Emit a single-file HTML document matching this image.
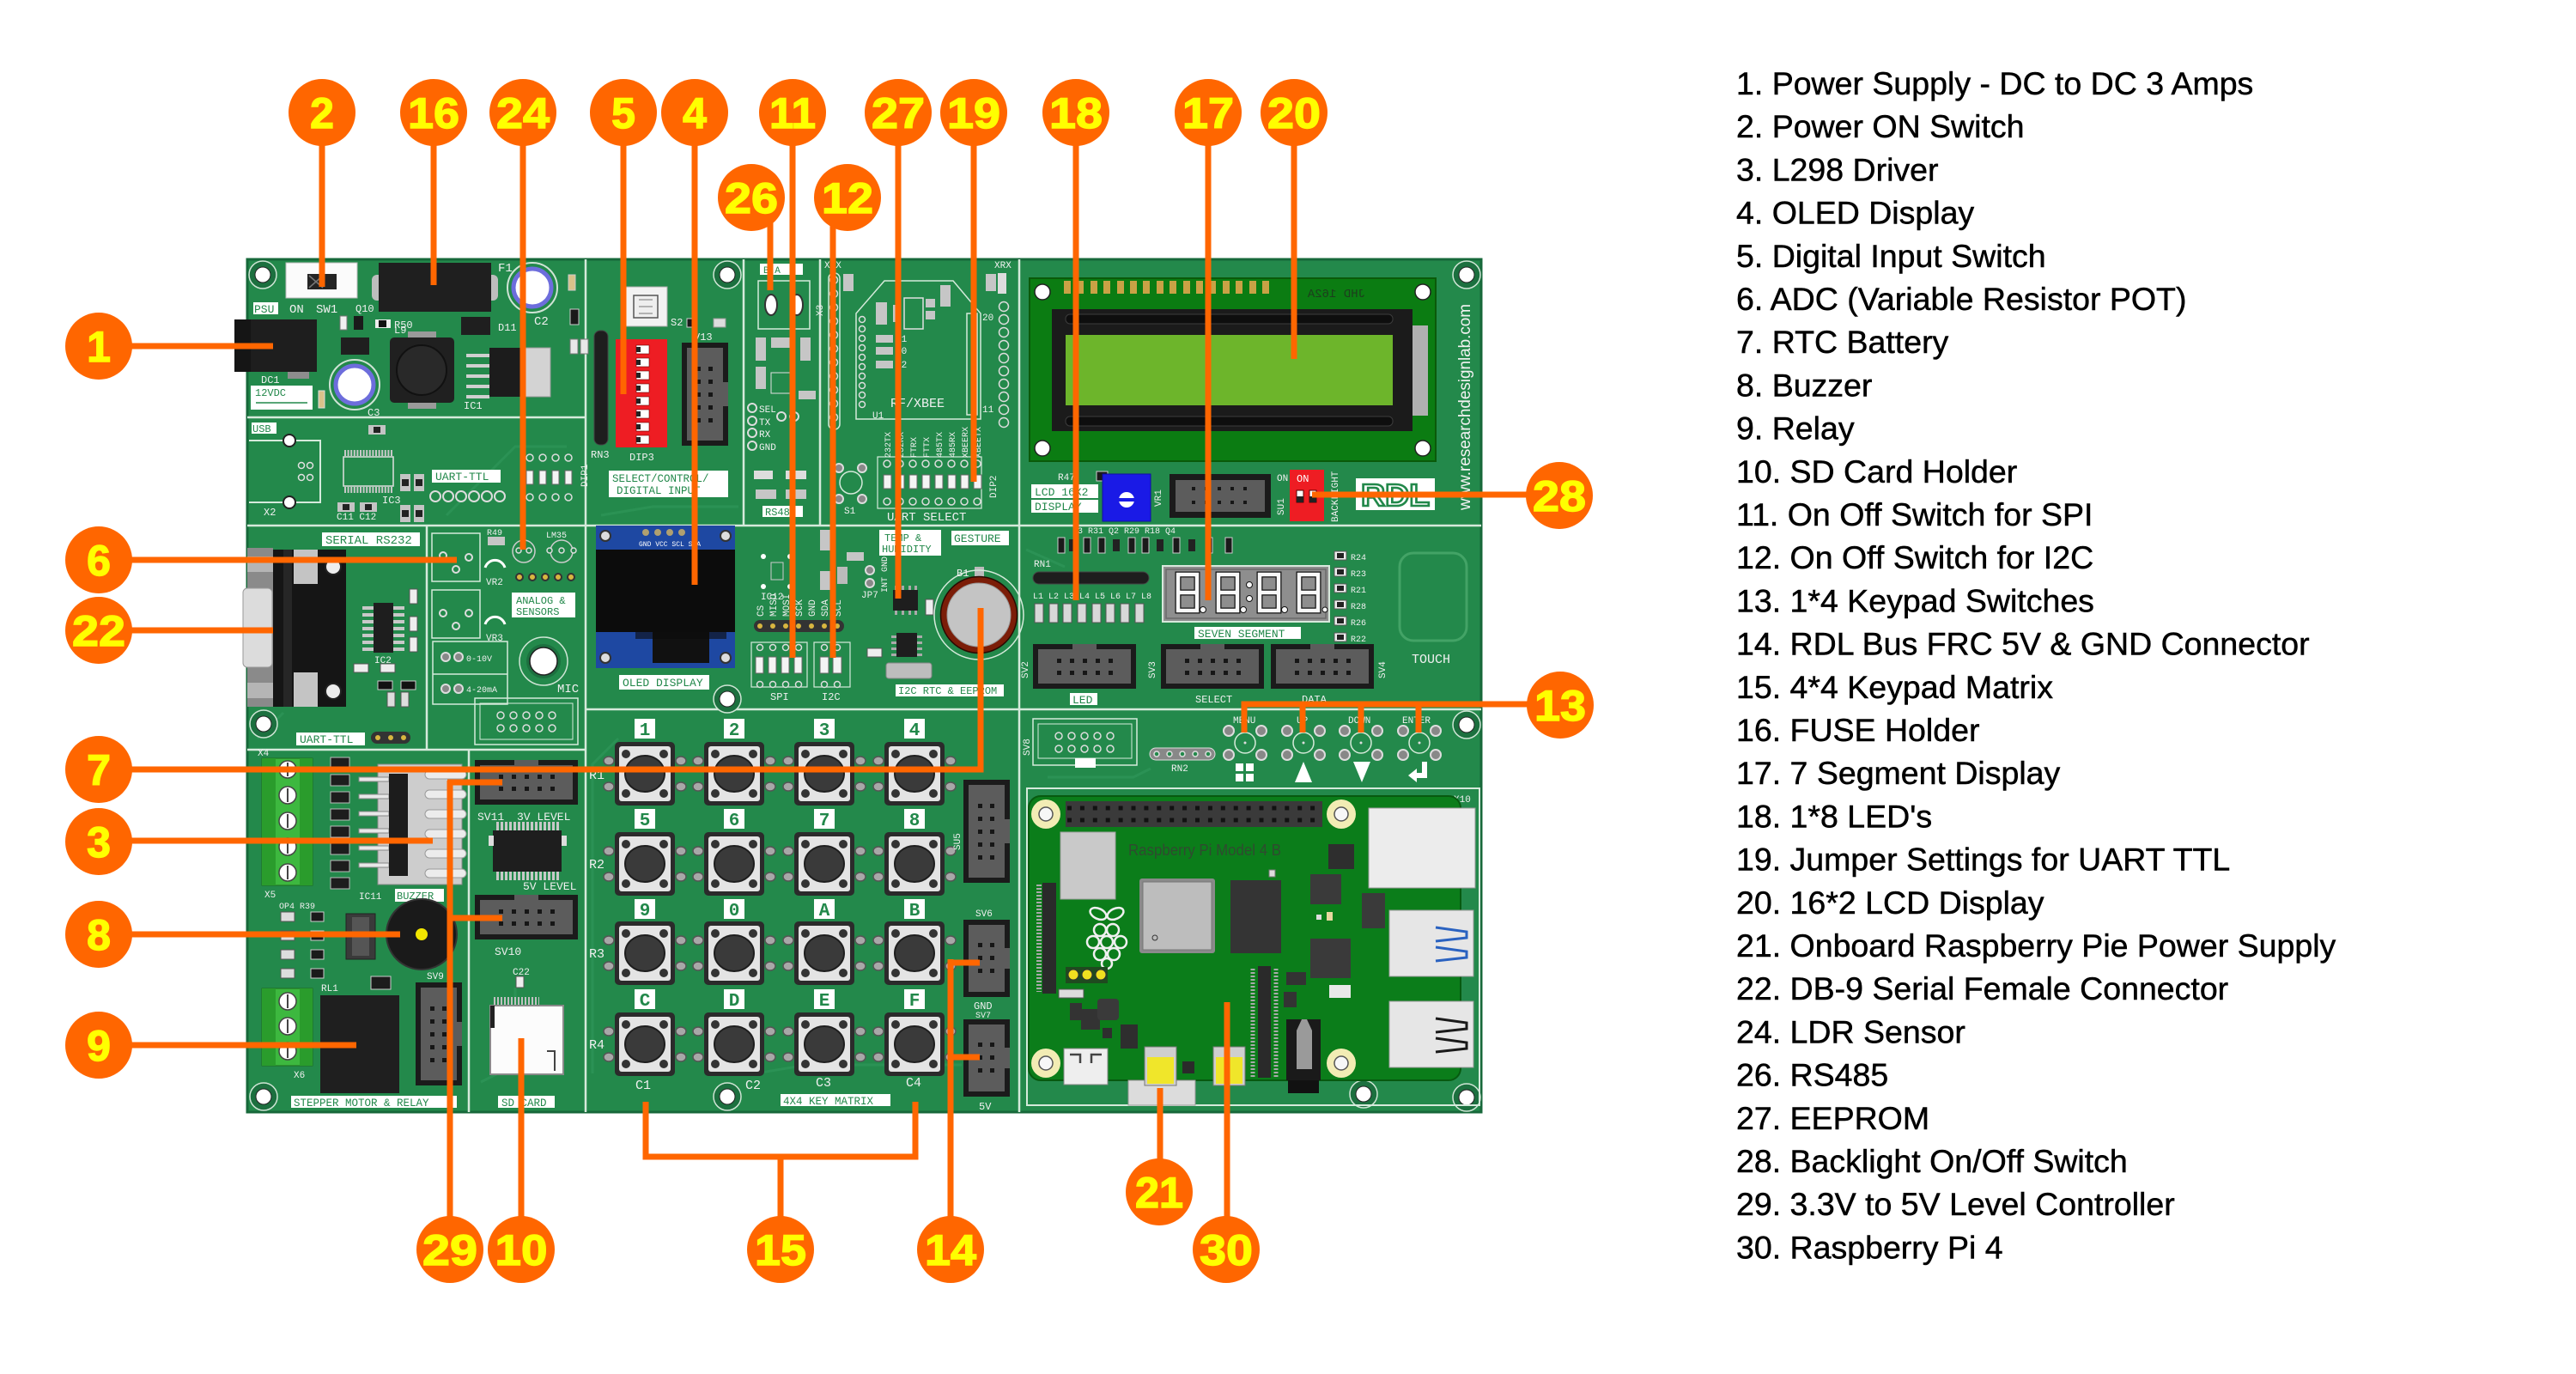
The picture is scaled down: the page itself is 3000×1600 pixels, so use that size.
<!DOCTYPE html>
<html><head><meta charset="utf-8"><style>
html,body{margin:0;padding:0;background:#fff;}
svg{display:block;}
</style></head><body>
<svg xmlns="http://www.w3.org/2000/svg" width="3000" height="1600" viewBox="0 0 3000 1600">
<defs>
  <g id="hdrH">
    <rect x="0" y="0" width="120" height="52" fill="#1b1b1b"/>
    <rect x="6" y="6" width="108" height="40" fill="#5c5c5c"/>
    <rect x="46" y="0" width="28" height="7" fill="#5c5c5c"/>
    <g fill="#161616">
      <rect x="28" y="17" width="5" height="5"/><rect x="43" y="17" width="5" height="5"/><rect x="58" y="17" width="5" height="5"/><rect x="73" y="17" width="5" height="5"/><rect x="88" y="17" width="5" height="5"/>
      <rect x="28" y="31" width="5" height="5"/><rect x="43" y="31" width="5" height="5"/><rect x="58" y="31" width="5" height="5"/><rect x="73" y="31" width="5" height="5"/><rect x="88" y="31" width="5" height="5"/>
    </g>
  </g>
  <g id="hdrV">
    <rect x="0" y="0" width="54" height="120" fill="#1b1b1b"/>
    <rect x="6" y="6" width="42" height="108" fill="#5c5c5c"/>
    <rect x="47" y="46" width="7" height="28" fill="#5c5c5c"/>
    <g fill="#161616">
      <rect x="17" y="28" width="5" height="5"/><rect x="17" y="43" width="5" height="5"/><rect x="17" y="58" width="5" height="5"/><rect x="17" y="73" width="5" height="5"/><rect x="17" y="88" width="5" height="5"/>
      <rect x="31" y="28" width="5" height="5"/><rect x="31" y="43" width="5" height="5"/><rect x="31" y="58" width="5" height="5"/><rect x="31" y="73" width="5" height="5"/><rect x="31" y="88" width="5" height="5"/>
    </g>
  </g>
  <g id="hdrV3">
    <rect x="0" y="0" width="54" height="90" fill="#1b1b1b"/>
    <rect x="6" y="6" width="42" height="78" fill="#5c5c5c"/>
    <rect x="47" y="33" width="7" height="24" fill="#5c5c5c"/>
    <g fill="#161616">
      <rect x="17" y="27" width="5" height="5"/><rect x="17" y="42" width="5" height="5"/><rect x="17" y="57" width="5" height="5"/>
      <rect x="31" y="27" width="5" height="5"/><rect x="31" y="42" width="5" height="5"/><rect x="31" y="57" width="5" height="5"/>
    </g>
  </g>
  <g id="btn">
    <ellipse cx="-42" cy="-15" rx="6" ry="5" fill="#a8a8a8" stroke="#555" stroke-width="1.5"/>
    <ellipse cx="-42" cy="15" rx="6" ry="5" fill="#a8a8a8" stroke="#555" stroke-width="1.5"/>
    <ellipse cx="42" cy="-15" rx="6" ry="5" fill="#a8a8a8" stroke="#555" stroke-width="1.5"/>
    <ellipse cx="42" cy="15" rx="6" ry="5" fill="#a8a8a8" stroke="#555" stroke-width="1.5"/>
    <rect x="-35" y="-37" width="70" height="74" rx="5" fill="#2b2b2b"/>
    <rect x="-30" y="-32" width="60" height="64" rx="3" fill="#e4e4e4"/>
    <circle cx="-22" cy="-23" r="5" fill="#333"/><circle cx="22" cy="-23" r="5" fill="#333"/>
    <circle cx="-22" cy="23" r="5" fill="#333"/><circle cx="22" cy="23" r="5" fill="#333"/>
    <ellipse cx="0" cy="0" rx="23" ry="21" fill="#3a3a3a" stroke="#1e1e1e" stroke-width="2"/>
  </g>
  <g id="hole">
    <circle r="16" fill="#1c703f" stroke="#cfe5d5" stroke-width="1.5"/>
    <circle r="9" fill="#fff" stroke="#222" stroke-width="1"/>
  </g>
  <g id="pihole">
    <circle r="17" fill="#f2ecb4"/>
    <circle r="8" fill="#f7f7f7" stroke="#555" stroke-width="1.5"/>
  </g>
  <g id="tact">
    <circle cx="-19" cy="-14" r="6" fill="#888" stroke="#ddd" stroke-width="2"/>
    <circle cx="19" cy="-14" r="6" fill="#888" stroke="#ddd" stroke-width="2"/>
    <circle cx="-19" cy="14" r="6" fill="#888" stroke="#ddd" stroke-width="2"/>
    <circle cx="19" cy="14" r="6" fill="#888" stroke="#ddd" stroke-width="2"/>
    <circle r="12" fill="none" stroke="#d5ead9" stroke-width="1.5"/>
    <circle r="1.5" fill="#ddd"/>
  </g>
  <g id="cap">
    <circle r="29" fill="none" stroke="#cfe3d5" stroke-width="2"/>
    <circle r="22" fill="#fff" stroke="#6d6ddc" stroke-width="5"/>
  </g>
  <g id="smd">
    <rect x="0" y="0" width="12" height="20" fill="#c4c4c4"/>
    <rect x="2" y="6" width="8" height="8" fill="#222"/>
  </g>
  <g id="smdh">
    <rect x="0" y="0" width="20" height="11" fill="#c4c4c4"/>
    <rect x="6" y="2" width="8" height="7" fill="#222"/>
  </g>
  <g id="seg">
    <path d="M3 2 H25 V23 H3 Z M3 23 V44 H25 V23" fill="none" stroke="#111" stroke-width="7"/>
    <path d="M3 2 H25 V23 H3 Z M3 23 V44 H25 V23" fill="none" stroke="#f8f8f8" stroke-width="4.5"/>
  </g>
</defs>

<!-- ================= BOARD ================= -->
<rect x="288" y="302" width="1437" height="993" fill="#23894b" stroke="#17683a" stroke-width="3"/>

<g fill="none" stroke="#2d9557" stroke-width="3" opacity="0.8">
  <path d="M700 600 L760 590 H860"/>
  <path d="M560 1260 L600 1240 V1150"/>
  <path d="M880 1250 L940 1240 H1120"/>
  <path d="M720 860 L690 890 V1250"/>
  <path d="M300 860 L330 830"/>
  <path d="M1220 905 L1320 905 L1340 895"/>
  <path d="M1195 640 L1240 660"/>
  <path d="M520 600 L600 520 H660"/>
</g>

<g fill="none" stroke="#d5eadb" stroke-width="2.5">
  <path d="M682 302 V1295"/>
  <path d="M288 486 H682"/>
  <path d="M288 612 H1725"/>
  <path d="M866 302 V612"/>
  <path d="M955 302 V612"/>
  <path d="M1187 302 V1295"/>
  <path d="M682 826 H1725"/>
  <path d="M288 873 H682"/>
  <path d="M497 612 V873"/>
  <path d="M546 873 V1295"/>
</g>

<use href="#hole" x="306" y="320"/>
<use href="#hole" x="847" y="320"/>
<use href="#hole" x="1708" y="320"/>
<use href="#hole" x="307" y="843"/>
<use href="#hole" x="307" y="1277"/>
<use href="#hole" x="847" y="1277"/>
<use href="#hole" x="847" y="814"/>
<use href="#hole" x="1708" y="844"/>
<use href="#hole" x="1708" y="1278"/>
<use href="#hole" x="1588" y="1274"/>

<g font-family="Liberation Mono, DejaVu Sans Mono, monospace" font-size="14" fill="#f0f0f0">
<!-- PSU -->
<rect x="333" y="306" width="83" height="41" fill="#fbfbfb" stroke="#bbb"/>
<rect x="358" y="319" width="34" height="18" fill="#242424"/>
<path d="M360 321 L376 335 M376 321 L360 335" stroke="#777" stroke-width="1.5"/>
<text x="337" y="364">ON</text><text x="368" y="364">SW1</text>
<rect x="433" y="320" width="18" height="30" rx="6" fill="#bdbdbd"/>
<rect x="562" y="320" width="18" height="30" rx="6" fill="#bdbdbd"/>
<rect x="441" y="306" width="131" height="57" fill="#1f1f1f"/>
<text x="580" y="316">F1</text>
<use href="#cap" x="620" y="335"/>
<text x="622" y="378">C2</text>
<rect x="662" y="320" width="8" height="18" fill="#d9c28a" stroke="#ccc"/>
<rect x="664" y="360" width="10" height="18" fill="#1a1a1a" stroke="#ccc"/>
<rect x="664" y="395" width="9" height="17" fill="#e8e8e8" stroke="#777"/>
<rect x="676" y="395" width="9" height="17" fill="#e8e8e8" stroke="#777"/>
<rect x="273" y="372" width="96" height="61" fill="#151515"/>
<rect x="292" y="372" width="77" height="61" fill="#1e1e1e"/>
<rect x="335" y="433" width="25" height="8" fill="#8d8d8d"/>
<rect x="295" y="352" width="29" height="14" fill="#fff"/>
<text x="296" y="364" fill="#22884a" font-size="13">PSU</text>
<text x="304" y="446" font-size="12">DC1</text>
<rect x="396" y="368" width="8" height="16" fill="#f0f0f0" stroke="#777"/>
<rect x="412" y="368" width="11" height="16" fill="#1a1a1a"/>
<rect x="437" y="372" width="18" height="10" fill="#eee"/><rect x="441" y="373" width="9" height="8" fill="#111"/>
<text x="459" y="382" font-size="12">R50</text>
<text x="414" y="363" font-size="12">Q10</text>
<rect x="397" y="393" width="33" height="20" fill="#1f1f1f"/>
<rect x="475" y="386" width="33" height="8" fill="#9a9a9a"/>
<rect x="475" y="468" width="33" height="8" fill="#9a9a9a"/>
<rect x="454" y="393" width="75" height="76" rx="5" fill="#202020"/>
<circle cx="491" cy="431" r="29" fill="#292929" stroke="#111" stroke-width="2"/>
<text x="459" y="388" font-size="12">L9</text>
<rect x="537" y="369" width="34" height="21" fill="#1f1f1f"/>
<text x="580" y="385" font-size="12">D11</text>
<g fill="#d0d0d0"><rect x="543" y="412" width="27" height="4"/><rect x="543" y="424" width="27" height="4"/><rect x="543" y="436" width="27" height="4"/><rect x="543" y="448" width="27" height="4"/><rect x="543" y="460" width="27" height="4"/></g>
<rect x="570" y="405" width="42" height="57" fill="#1c1c1c"/>
<rect x="612" y="405" width="29" height="57" fill="#d3d3d3" stroke="#999"/>
<text x="540" y="476" font-size="12">IC1</text>
<use href="#cap" x="413" y="448"/>
<text x="428" y="484" font-size="12">C3</text>
<rect x="292" y="449" width="72" height="28" fill="#fff"/>
<text x="297" y="461" fill="#22884a" font-size="12">12VDC</text>
<path d="M298 469 H358" stroke="#22884a" stroke-width="1.5"/>
<rect x="371" y="455" width="7" height="20" fill="#d9c28a" stroke="#ddd"/>

<!-- USB / UART -->
<rect x="293" y="492" width="29" height="13" fill="#fff"/>
<text x="294" y="503" fill="#22884a" font-size="12">USB</text>
<path d="M290 513 H373 V585 H290" fill="none" stroke="#d5eadb" stroke-width="2"/>
<circle cx="337" cy="513" r="7" fill="#fff" stroke="#222" stroke-width="2"/>
<circle cx="337" cy="585" r="7" fill="#fff" stroke="#222" stroke-width="2"/>
<g fill="none" stroke="#e0e0e0" stroke-width="1.5"><circle cx="351" cy="542" r="3.5"/><circle cx="361" cy="542" r="3.5"/><circle cx="351" cy="556" r="3.5"/><circle cx="361" cy="556" r="3.5"/></g>
<text x="307" y="600" font-size="12">X2</text>
<rect x="400" y="532" width="58" height="34" fill="none" stroke="#e0e0e0" stroke-width="1.5"/>
<line x1="401" y1="527.5" x2="457" y2="527.5" stroke="#c8c8c8" stroke-width="7" stroke-dasharray="2 1.6"/>
<line x1="401" y1="570.5" x2="457" y2="570.5" stroke="#c8c8c8" stroke-width="7" stroke-dasharray="2 1.6"/>
<text x="445" y="586" font-size="12">IC3</text>
<use href="#smdh" x="429" y="495"/>
<use href="#smdh" x="393" y="585"/><use href="#smdh" x="419" y="585"/>
<text x="392" y="605" font-size="11">C11 C12</text>
<use href="#smd" x="466" y="552"/><use href="#smd" x="482" y="552"/>
<use href="#smd" x="466" y="588"/><use href="#smd" x="482" y="588"/>
<rect x="503" y="547" width="80" height="15" fill="#fff"/>
<text x="507" y="559" fill="#22884a" font-size="13">UART-TTL</text>
<g fill="#23894b" stroke="#ddd" stroke-width="2"><circle cx="507" cy="578" r="6"/><circle cx="522" cy="578" r="6"/><circle cx="537" cy="578" r="6"/><circle cx="552" cy="578" r="6"/><circle cx="567" cy="578" r="6"/><circle cx="582" cy="578" r="6"/></g>
<g fill="#23894b" stroke="#ddd" stroke-width="1.5"><circle cx="617" cy="533" r="4"/><circle cx="632" cy="533" r="4"/><circle cx="647" cy="533" r="4"/><circle cx="662" cy="533" r="4"/><circle cx="617" cy="579" r="4"/><circle cx="632" cy="579" r="4"/><circle cx="647" cy="579" r="4"/><circle cx="662" cy="579" r="4"/></g>
<g fill="#f4f4f4" stroke="#666"><rect x="613" y="548" width="8" height="16"/><rect x="628" y="548" width="8" height="16"/><rect x="643" y="548" width="8" height="16"/><rect x="658" y="548" width="8" height="16"/></g>
<text x="669" y="568" font-size="11" transform="rotate(-90 676 560)">DIP1</text>

<!-- DIP / select -->
<rect x="727" y="334" width="50" height="46" fill="#f2f2f2" stroke="#aaa"/>
<rect x="738" y="344" width="28" height="26" fill="#eee" stroke="#555" stroke-width="1.5"/>
<path d="M744 349 H760 M744 357 H760 M744 365 H760" stroke="#777"/>
<text x="781" y="379" font-size="12">S2</text>
<rect x="800" y="371" width="12" height="10" fill="#1a1a1a" stroke="#ccc"/>
<rect x="831" y="371" width="14" height="10" fill="#ddd" stroke="#999"/>
<rect x="692" y="385" width="16" height="133" rx="7" fill="#1e1e1e" stroke="#444"/>
<text x="688" y="533" font-size="12">RN3</text>
<rect x="717" y="395" width="60" height="126" fill="#ee1d23"/>
<g fill="#fff" stroke="#600" stroke-width="0.6">
<rect x="741" y="402" width="15" height="10"/><rect x="741" y="417" width="15" height="10"/><rect x="741" y="432" width="15" height="10"/><rect x="741" y="447" width="15" height="10"/>
<rect x="741" y="462" width="15" height="10"/><rect x="741" y="477" width="15" height="10"/><rect x="741" y="492" width="15" height="10"/><rect x="741" y="507" width="15" height="10"/>
</g>
<g fill="#222"><rect x="741" y="404" width="5" height="6"/><rect x="741" y="419" width="5" height="6"/><rect x="741" y="434" width="5" height="6"/><rect x="741" y="449" width="5" height="6"/><rect x="741" y="464" width="5" height="6"/><rect x="741" y="479" width="5" height="6"/><rect x="741" y="494" width="5" height="6"/><rect x="741" y="509" width="5" height="6"/></g>
<text x="733" y="536" font-size="12">DIP3</text>
<use href="#hdrV" x="794" y="399"/>
<text x="808" y="396" font-size="12">V13</text>
<rect x="709" y="548" width="139" height="31" fill="#fff"/>
<text x="713" y="561" fill="#22884a" font-size="12.5">SELECT/CONTROL/</text>
<text x="718" y="575" fill="#22884a" font-size="12.5">DIGITAL INPUT</text>

<!-- RS485 -->
<rect x="885" y="307" width="50" height="13" fill="#fff"/>
<text x="889" y="318" fill="#22884a" font-size="11">B  A</text>
<rect x="883" y="327" width="60" height="56" fill="none" stroke="#d5eadb" stroke-width="1.5"/>
<ellipse cx="898" cy="355" rx="7" ry="12" fill="#fff" stroke="#333" stroke-width="2"/>
<ellipse cx="928" cy="355" rx="7" ry="12" fill="#fff" stroke="#333" stroke-width="2"/>
<text x="944" y="370" font-size="11" transform="rotate(-90 950 362)">X3</text>
<rect x="880" y="393" width="12" height="27" fill="#c6c6c6"/><rect x="898" y="393" width="22" height="12" fill="#c6c6c6"/><rect x="932" y="393" width="12" height="27" fill="#c6c6c6"/>
<rect x="880" y="427" width="12" height="26" fill="#c6c6c6"/>
<rect x="898" y="434" width="24" height="24" fill="none" stroke="#e0e0e0"/>
<rect x="930" y="455" width="20" height="10" fill="#c6c6c6"/>
<g fill="#23894b" stroke="#ddd" stroke-width="2"><circle cx="876" cy="475" r="5"/><circle cx="876" cy="490" r="5"/><circle cx="876" cy="504" r="5"/><circle cx="876" cy="519" r="5"/><circle cx="910" cy="485" r="5"/><circle cx="925" cy="485" r="5"/></g>
<text x="884" y="480" font-size="11">SEL</text><text x="884" y="495" font-size="11">TX</text><text x="884" y="509" font-size="11">RX</text><text x="884" y="524" font-size="11">GND</text>
<rect x="878" y="548" width="22" height="10" fill="#ddd"/><rect x="915" y="548" width="24" height="10" fill="#ddd"/>
<rect x="880" y="570" width="24" height="11" fill="#c6c6c6"/><rect x="915" y="570" width="24" height="11" fill="#c6c6c6"/>
<rect x="888" y="589" width="47" height="13" fill="#fff"/>
<text x="891" y="600" fill="#22884a" font-size="12">RS485</text>

<!-- XBEE -->
<rect x="965" y="318" width="13" height="182" rx="6" fill="none" stroke="#d5eadb" stroke-width="1.5"/>
<g fill="#23894b" stroke="#ddd" stroke-width="1.5">
<circle cx="971" cy="326" r="4.5"/><circle cx="971" cy="342" r="4.5"/><circle cx="971" cy="358" r="4.5"/><circle cx="971" cy="374" r="4.5"/><circle cx="971" cy="390" r="4.5"/><circle cx="971" cy="406" r="4.5"/><circle cx="971" cy="422" r="4.5"/><circle cx="971" cy="438" r="4.5"/><circle cx="971" cy="454" r="4.5"/><circle cx="971" cy="470" r="4.5"/><circle cx="971" cy="486" r="4.5"/>
<circle cx="1169" cy="357" r="5.5"/><circle cx="1169" cy="372" r="5.5"/><circle cx="1169" cy="387" r="5.5"/><circle cx="1169" cy="402" r="5.5"/><circle cx="1169" cy="417" r="5.5"/><circle cx="1169" cy="432" r="5.5"/><circle cx="1169" cy="447" r="5.5"/><circle cx="1169" cy="462" r="5.5"/><circle cx="1169" cy="477" r="5.5"/><circle cx="1169" cy="492" r="5.5"/>
<circle cx="1004" cy="372" r="3.5"/><circle cx="1004" cy="383" r="3.5"/><circle cx="1004" cy="394" r="3.5"/><circle cx="1004" cy="405" r="3.5"/><circle cx="1004" cy="416" r="3.5"/><circle cx="1004" cy="427" r="3.5"/><circle cx="1004" cy="438" r="3.5"/><circle cx="1004" cy="449" r="3.5"/><circle cx="1004" cy="460" r="3.5"/><circle cx="1004" cy="471" r="3.5"/>
</g>
<path d="M997 488 V365 L1030 327 H1110 L1142 365 V488 Z" fill="none" stroke="#d5eadb" stroke-width="1.5"/>
<rect x="1126" y="365" width="12" height="118" fill="none" stroke="#d5eadb" stroke-width="1.5"/>
<rect x="1053" y="347" width="22" height="36" fill="none" stroke="#e0e0e0" stroke-width="1.5"/>
<rect x="1020" y="352" width="13" height="26" fill="#c6c6c6"/><rect x="1040" y="355" width="7" height="20" fill="#c6c6c6"/>
<rect x="1078" y="348" width="11" height="10" fill="#c6c6c6"/><rect x="1078" y="362" width="11" height="10" fill="#c6c6c6"/><rect x="1095" y="332" width="12" height="25" fill="#c6c6c6"/>
<rect x="1020" y="390" width="20" height="9" fill="#c6c6c6"/><rect x="1020" y="404" width="20" height="9" fill="#c6c6c6"/><rect x="1020" y="420" width="20" height="9" fill="#c6c6c6"/>
<text x="1043" y="398" font-size="11">11</text><text x="1043" y="412" font-size="11">10</text><text x="1043" y="428" font-size="11">12</text>
<text x="1037" y="474" font-size="15">RF/XBEE</text>
<text x="1016" y="487" font-size="11">U1</text>
<text x="1144" y="373" font-size="11">20</text><text x="1144" y="480" font-size="11">11</text>
<rect x="982" y="319" width="12" height="20" fill="#c6c6c6"/><rect x="1148" y="319" width="12" height="20" fill="#c6c6c6"/><rect x="1162" y="318" width="10" height="24" fill="#ddd"/>
<text x="960" y="312" font-size="11">X X</text><text x="1158" y="312" font-size="11">XRX</text>
<rect x="1022" y="532" width="121" height="60" fill="none" stroke="#d5eadb" stroke-width="1.2"/>
<g fill="#f4f4f4" stroke="#666"><rect x="1029" y="553" width="9" height="16"/><rect x="1044" y="553" width="9" height="16"/><rect x="1059" y="553" width="9" height="16"/><rect x="1074" y="553" width="9" height="16"/><rect x="1089" y="553" width="9" height="16"/><rect x="1104" y="553" width="9" height="16"/><rect x="1119" y="553" width="9" height="16"/><rect x="1134" y="553" width="9" height="16"/></g>
<g fill="#23894b" stroke="#ddd" stroke-width="1.5"><circle cx="1033" cy="540" r="4"/><circle cx="1048" cy="540" r="4"/><circle cx="1063" cy="540" r="4"/><circle cx="1078" cy="540" r="4"/><circle cx="1093" cy="540" r="4"/><circle cx="1108" cy="540" r="4"/><circle cx="1123" cy="540" r="4"/><circle cx="1138" cy="540" r="4"/>
<circle cx="1033" cy="584" r="4"/><circle cx="1048" cy="584" r="4"/><circle cx="1063" cy="584" r="4"/><circle cx="1078" cy="584" r="4"/><circle cx="1093" cy="584" r="4"/><circle cx="1108" cy="584" r="4"/><circle cx="1123" cy="584" r="4"/><circle cx="1138" cy="584" r="4"/></g>
<g font-size="10"><text transform="translate(1037 533) rotate(-90)">232TX</text><text transform="translate(1052 533) rotate(-90)">232RX</text><text transform="translate(1067 533) rotate(-90)">FTRX</text><text transform="translate(1082 533) rotate(-90)">FTTX</text><text transform="translate(1097 533) rotate(-90)">485TX</text><text transform="translate(1112 533) rotate(-90)">485RX</text><text transform="translate(1127 533) rotate(-90)">XBEERX</text><text transform="translate(1142 533) rotate(-90)">XBEETX</text></g>
<text x="1033" y="606" font-size="14">UART SELECT</text>
<text transform="translate(1160 580) rotate(-90)" font-size="11">DIP2</text>
<circle cx="991" cy="562" r="13" fill="none" stroke="#d5eadb" stroke-width="1.5"/>
<g fill="#888" stroke="#ddd" stroke-width="2"><circle cx="977" cy="545" r="5"/><circle cx="1004" cy="545" r="5"/><circle cx="977" cy="581" r="5"/><circle cx="1004" cy="581" r="5"/></g>
<text x="983" y="598" font-size="11">S1</text>

<!-- LCD -->
<rect x="1199" y="324" width="473" height="213" fill="#0b7c12" stroke="#0a5a0a" stroke-width="2"/>
<g fill="#c9a245">
<rect x="1239" y="327" width="8" height="15"/><rect x="1254" y="327" width="8" height="15"/><rect x="1270" y="327" width="8" height="15"/><rect x="1285" y="327" width="8" height="15"/><rect x="1301" y="327" width="8" height="15"/><rect x="1316" y="327" width="8" height="15"/><rect x="1331" y="327" width="8" height="15"/><rect x="1347" y="327" width="8" height="15"/>
<rect x="1362" y="327" width="8" height="15"/><rect x="1378" y="327" width="8" height="15"/><rect x="1393" y="327" width="8" height="15"/><rect x="1408" y="327" width="8" height="15"/><rect x="1424" y="327" width="8" height="15"/><rect x="1439" y="327" width="8" height="15"/><rect x="1455" y="327" width="8" height="15"/><rect x="1470" y="327" width="8" height="15"/>
</g>
<text x="1590" y="346" font-size="14" fill="#1d3d1d" transform="scale(-1 1) translate(-3180 0)">JHD 162A</text>
<circle cx="1214" cy="340" r="9" fill="#fff" stroke="#222" stroke-width="1.5"/>
<circle cx="1657" cy="340" r="9" fill="#fff" stroke="#222" stroke-width="1.5"/>
<circle cx="1214" cy="522" r="9" fill="#fff" stroke="#222" stroke-width="1.5"/>
<circle cx="1657" cy="522" r="9" fill="#fff" stroke="#222" stroke-width="1.5"/>
<rect x="1225" y="360" width="420" height="142" fill="#1b1b1b"/>
<rect x="1241" y="366" width="381" height="11" rx="5" fill="#0e0e0e" stroke="#3c3c3c"/>
<rect x="1241" y="485" width="381" height="11" rx="5" fill="#0e0e0e" stroke="#3c3c3c"/>
<rect x="1241" y="390" width="381" height="82" fill="#6db52b"/>
<rect x="1645" y="379" width="18" height="105" fill="#b0b0b0"/>

<rect x="1277" y="549" width="13" height="11" fill="#1a1a1a" stroke="#ccc"/>
<text x="1232" y="559" font-size="11">R47</text>
<rect x="1201" y="564" width="78" height="16" fill="#fff"/>
<rect x="1201" y="582" width="78" height="15" fill="#fff"/>
<text x="1205" y="577" fill="#22884a" font-size="13">LCD 16X2</text>
<text x="1205" y="594" fill="#22884a" font-size="13">DISPLAY</text>
<rect x="1284" y="552" width="56" height="55" fill="#1a1ae6" stroke="#1010a0"/>
<circle cx="1312" cy="582" r="9" fill="#fff"/>
<rect x="1303" y="580" width="18" height="4" fill="#1a1ae6"/>
<text transform="translate(1352 590) rotate(-90)" font-size="11">VR1</text>
<rect x="1362" y="552" width="118" height="51" fill="#1b1b1b"/>
<rect x="1369" y="559" width="104" height="37" fill="#5c5c5c"/>
<g fill="#161616"><rect x="1388" y="567" width="4" height="4"/><rect x="1403" y="567" width="4" height="4"/><rect x="1418" y="567" width="4" height="4"/><rect x="1433" y="567" width="4" height="4"/><rect x="1448" y="567" width="4" height="4"/><rect x="1388" y="583" width="4" height="4"/><rect x="1403" y="583" width="4" height="4"/><rect x="1418" y="583" width="4" height="4"/><rect x="1433" y="583" width="4" height="4"/><rect x="1448" y="583" width="4" height="4"/></g>
<text transform="translate(1495 600) rotate(-90)" font-size="11">SU1</text>
<text x="1487" y="560" font-size="11">ON</text>
<rect x="1502" y="547" width="40" height="60" fill="#ee1d23"/>
<text x="1510" y="561" font-size="12" fill="#fff">ON</text>
<rect x="1510" y="571" width="8" height="14" fill="#fff" stroke="#500"/><rect x="1525" y="571" width="8" height="14" fill="#fff" stroke="#500"/>
<rect x="1510" y="578" width="8" height="7" fill="#222"/><rect x="1525" y="578" width="8" height="7" fill="#222"/>
<text transform="translate(1558 608) rotate(-90)" font-size="11">BACKLIGHT</text>
<rect x="1579" y="557" width="92" height="37" fill="#fff"/>
<text x="1625" y="589" text-anchor="middle" font-family="Liberation Sans, sans-serif" font-weight="bold" font-size="36" fill="#fff" stroke="#22884a" stroke-width="2.5" textLength="80" lengthAdjust="spacingAndGlyphs">RDL</text>
<text transform="translate(1712 594) rotate(-90)" font-family="Liberation Sans, sans-serif" font-size="19" fill="#f2f2f2" textLength="240" lengthAdjust="spacingAndGlyphs">www.researchdesignlab.com</text>

<!-- LED / 7-seg -->
<g>
<rect x="1232" y="626" width="8" height="18" fill="#1a1a1a" stroke="#ccc"/>
<rect x="1245" y="628" width="8" height="14" fill="#222"/>
<rect x="1262" y="626" width="8" height="18" fill="#1a1a1a" stroke="#ccc"/>
<rect x="1279" y="626" width="8" height="18" fill="#1a1a1a" stroke="#ccc"/>
<rect x="1296" y="628" width="8" height="14" fill="#222"/>
<rect x="1314" y="626" width="8" height="18" fill="#1a1a1a" stroke="#ccc"/>
<rect x="1330" y="626" width="8" height="18" fill="#1a1a1a" stroke="#ccc"/>
<rect x="1347" y="628" width="8" height="14" fill="#222"/>
<rect x="1366" y="626" width="8" height="18" fill="#1a1a1a" stroke="#ccc"/>
<rect x="1384" y="628" width="8" height="14" fill="#222"/>
<rect x="1404" y="626" width="8" height="18" fill="#1a1a1a" stroke="#ccc"/>
<rect x="1427" y="626" width="8" height="18" fill="#1a1a1a" stroke="#ccc"/>
</g>
<text x="1249" y="621" font-size="10">Q3 R31 Q2 R29 R18 Q4</text>
<rect x="1203" y="666" width="135" height="14" rx="7" fill="#1e1e1e" stroke="#444"/>
<text x="1204" y="660" font-size="11">RN1</text>
<text x="1203" y="697" font-size="10">L1 L2 L3 L4 L5 L6 L7 L8</text>
<g fill="#d8d8d8" stroke="#555">
<rect x="1205" y="703" width="10" height="22"/><rect x="1222" y="703" width="10" height="22"/><rect x="1238" y="703" width="10" height="22"/><rect x="1255" y="703" width="10" height="22"/><rect x="1272" y="703" width="10" height="22"/><rect x="1288" y="703" width="10" height="22"/><rect x="1305" y="703" width="10" height="22"/><rect x="1322" y="703" width="10" height="22"/>
</g>
<rect x="1354" y="659" width="194" height="65" fill="#8e8e8e" stroke="#d8e8dc" stroke-width="2"/>
<rect x="1358" y="663" width="186" height="57" fill="none" stroke="#6a6a6a" stroke-width="1.5"/>
<use href="#seg" x="1369" y="667"/><use href="#seg" x="1416" y="667"/><use href="#seg" x="1464" y="667"/><use href="#seg" x="1510" y="667"/>
<g fill="#f6f6f6" stroke="#111" stroke-width="1"><circle cx="1401" cy="710" r="3.5"/><circle cx="1448" cy="710" r="3.5"/><circle cx="1496" cy="710" r="3.5"/><circle cx="1543" cy="710" r="3"/><circle cx="1455" cy="681" r="3.5"/><circle cx="1455" cy="697" r="3.5"/></g>
<rect x="1391" y="730" width="124" height="14" fill="#fff"/>
<text x="1395" y="742" fill="#22884a" font-size="13">SEVEN SEGMENT</text>
<g fill="#eee" stroke="#555"><rect x="1554" y="642" width="14" height="10"/><rect x="1554" y="661" width="14" height="10"/><rect x="1554" y="680" width="14" height="10"/><rect x="1554" y="699" width="14" height="10"/><rect x="1554" y="718" width="14" height="10"/><rect x="1554" y="737" width="14" height="10"/></g>
<g fill="#222"><rect x="1557" y="644" width="8" height="6"/><rect x="1557" y="663" width="8" height="6"/><rect x="1557" y="682" width="8" height="6"/><rect x="1557" y="701" width="8" height="6"/><rect x="1557" y="720" width="8" height="6"/><rect x="1557" y="739" width="8" height="6"/></g>
<text x="1573" y="652" font-size="10">R24</text><text x="1573" y="671" font-size="10">R23</text><text x="1573" y="690" font-size="10">R21</text><text x="1573" y="709" font-size="10">R28</text><text x="1573" y="728" font-size="10">R26</text><text x="1573" y="747" font-size="10">R22</text>
<rect x="1630" y="644" width="78" height="102" rx="16" fill="none" stroke="#43a366" stroke-width="3"/>
<text x="1644" y="772" font-size="15">TOUCH</text>
<use href="#hdrH" x="1203" y="750"/>
<use href="#hdrH" x="1352" y="750"/>
<use href="#hdrH" x="1480" y="750"/>
<rect x="1246" y="807" width="32" height="14" fill="#fff"/>
<text x="1249" y="819" fill="#22884a" font-size="13">LED</text>
<text x="1392" y="818" font-size="12">SELECT</text>
<text x="1516" y="818" font-size="12">DATA</text>
<text transform="translate(1197 790) rotate(-90)" font-size="11">SV2</text>
<text transform="translate(1345 790) rotate(-90)" font-size="11">SV3</text>
<text transform="translate(1613 790) rotate(-90)" font-size="11">SV4</text>

<!-- middle I2C/SPI -->
<g fill="#fff"><circle cx="889" cy="648" r="3"/><circle cx="920" cy="648" r="3"/><circle cx="889" cy="683" r="3"/><circle cx="920" cy="683" r="3"/></g>
<rect x="898" y="655" width="14" height="20" fill="none" stroke="#ccc"/>
<text x="886" y="698" font-size="11">IC12</text>
<rect x="955" y="617" width="12" height="24" fill="#c6c6c6"/><rect x="955" y="665" width="12" height="22" fill="#c6c6c6"/>
<rect x="986" y="643" width="20" height="10" fill="#c6c6c6"/>
<rect x="975" y="660" width="12" height="20" fill="#bbb"/>
<g fill="#888" stroke="#ddd" stroke-width="2"><circle cx="1013" cy="664" r="5"/><circle cx="1013" cy="679" r="5"/></g>
<g font-size="11"><text transform="translate(889 718) rotate(-90)">CS</text><text transform="translate(904 718) rotate(-90)">MISO</text><text transform="translate(919 718) rotate(-90)">MOSI</text><text transform="translate(934 718) rotate(-90)">SCK</text><text transform="translate(949 718) rotate(-90)">GND</text><text transform="translate(964 718) rotate(-90)">SDA</text><text transform="translate(979 718) rotate(-90)">SCL</text></g>
<rect x="878" y="722" width="105" height="14" rx="7" fill="#333"/>
<g fill="#d8b640"><circle cx="885" cy="729" r="3"/><circle cx="900" cy="729" r="3"/><circle cx="915" cy="729" r="3"/><circle cx="930" cy="729" r="3"/><circle cx="945" cy="729" r="3"/><circle cx="960" cy="729" r="3"/><circle cx="975" cy="729" r="3"/></g>
<rect x="875" y="748" width="65" height="52" fill="none" stroke="#d5eadb" stroke-width="1.2"/>
<rect x="948" y="748" width="42" height="52" fill="none" stroke="#d5eadb" stroke-width="1.2"/>
<g fill="#f4f4f4" stroke="#666"><rect x="880" y="765" width="9" height="19"/><rect x="895" y="765" width="9" height="19"/><rect x="910" y="765" width="9" height="19"/><rect x="925" y="765" width="9" height="19"/><rect x="955" y="765" width="10" height="19"/><rect x="970" y="765" width="10" height="19"/></g>
<g fill="#23894b" stroke="#ddd" stroke-width="1.5"><circle cx="885" cy="754" r="3.5"/><circle cx="900" cy="754" r="3.5"/><circle cx="915" cy="754" r="3.5"/><circle cx="930" cy="754" r="3.5"/><circle cx="960" cy="754" r="3.5"/><circle cx="975" cy="754" r="3.5"/><circle cx="885" cy="797" r="3.5"/><circle cx="900" cy="797" r="3.5"/><circle cx="915" cy="797" r="3.5"/><circle cx="930" cy="797" r="3.5"/><circle cx="960" cy="797" r="3.5"/><circle cx="975" cy="797" r="3.5"/></g>
<text x="897" y="815" font-size="12">SPI</text><text x="957" y="815" font-size="12">I2C</text>
<rect x="1024" y="617" width="72" height="30" fill="#fff"/>
<text x="1030" y="630" fill="#22884a" font-size="12">TEMP &amp;</text>
<text x="1027" y="643" fill="#22884a" font-size="12">HUMIDITY</text>
<rect x="1108" y="618" width="67" height="17" fill="#fff"/>
<text x="1111" y="631" fill="#22884a" font-size="13">GESTURE</text>
<text transform="translate(1033 690) rotate(-90)" font-size="10">INT GND</text>
<text x="1003" y="696" font-size="11">JP7</text>
<g fill="#aaa"><rect x="1042" y="682" width="3" height="6"/><rect x="1050" y="682" width="3" height="6"/><rect x="1058" y="682" width="3" height="6"/><rect x="1065" y="682" width="3" height="6"/><rect x="1042" y="710" width="3" height="6"/><rect x="1050" y="710" width="3" height="6"/><rect x="1058" y="710" width="3" height="6"/><rect x="1065" y="710" width="3" height="6"/></g>
<rect x="1040" y="687" width="29" height="24" fill="#1e1e1e"/>
<rect x="1078" y="698" width="9" height="18" fill="#eee" stroke="#555"/>
<g fill="#aaa"><rect x="1038" y="740" width="6" height="3"/><rect x="1038" y="747" width="6" height="3"/><rect x="1038" y="754" width="6" height="3"/><rect x="1038" y="761" width="6" height="3"/><rect x="1068" y="740" width="6" height="3"/><rect x="1068" y="747" width="6" height="3"/><rect x="1068" y="754" width="6" height="3"/><rect x="1068" y="761" width="6" height="3"/></g>
<rect x="1044" y="737" width="24" height="28" fill="#1e1e1e"/>
<rect x="1010" y="755" width="17" height="10" fill="#eee" stroke="#555"/>
<rect x="1032" y="772" width="53" height="18" rx="3" fill="#bdbdbd" stroke="#888"/>
<rect x="1135" y="660" width="11" height="14" fill="#bbb"/>
<circle cx="1140" cy="716" r="52" fill="none" stroke="#d5eadb" stroke-width="1.5"/>
<circle cx="1140" cy="716" r="44.5" fill="#7b1d08" stroke="#2a0a02" stroke-width="1.5"/>
<circle cx="1140" cy="716" r="37" fill="#c4c4c4" stroke="#999"/>
<text x="1114" y="671" font-size="12">B1</text>
<rect x="1043" y="797" width="126" height="14" fill="#fff"/>
<text x="1046" y="808" fill="#22884a" font-size="12">I2C RTC &amp; EEPROM</text>

<!-- OLED -->
<rect x="694" y="612" width="162" height="166" fill="#1e48a2"/>
<rect x="694" y="640" width="162" height="96" fill="#0c0c0c"/>
<rect x="760" y="736" width="66" height="36" fill="#111"/>
<rect x="740" y="736" width="106" height="8" fill="#0c0c0c" opacity="0.6"/>
<circle cx="705" cy="624" r="6" fill="#ddd" stroke="#333" stroke-width="2"/>
<circle cx="845" cy="624" r="6" fill="#ddd" stroke="#333" stroke-width="2"/>
<circle cx="705" cy="766" r="6" fill="#ddd" stroke="#333" stroke-width="2"/>
<circle cx="845" cy="766" r="6" fill="#ddd" stroke="#333" stroke-width="2"/>
<g fill="#b0a070"><circle cx="752" cy="620" r="4"/><circle cx="766" cy="620" r="4"/><circle cx="780" cy="620" r="4"/><circle cx="794" cy="620" r="4"/></g>
<text x="744" y="636" font-size="8" fill="#fff">GND VCC SCL SDA</text>
<rect x="721" y="786" width="105" height="17" fill="#fff"/>
<text x="725" y="799" fill="#22884a" font-size="13">OLED DISPLAY</text>

<!-- serial / analog -->
<rect x="375" y="620" width="114" height="16" fill="#fff"/>
<text x="379" y="633" fill="#22884a" font-size="14">SERIAL RS232</text>
<rect x="288" y="638" width="30" height="185" fill="#8a8a8a"/>
<rect x="288" y="648" width="30" height="18" fill="#b5b5b5"/><rect x="288" y="795" width="30" height="18" fill="#b5b5b5"/>
<rect x="283" y="685" width="34" height="92" rx="5" fill="#dcdcdc" stroke="#999"/>
<rect x="318" y="640" width="85" height="183" fill="#151515"/>
<rect x="330" y="640" width="10" height="183" fill="#262626"/>
<rect x="342" y="640" width="28" height="40" fill="#c4c4c4"/>
<rect x="342" y="783" width="28" height="40" fill="#c4c4c4"/>
<circle cx="388" cy="660" r="9" fill="#eee" stroke="#222" stroke-width="2"/>
<circle cx="388" cy="805" r="9" fill="#eee" stroke="#222" stroke-width="2"/>
<g fill="#c8c8c8"><rect x="422" y="706" width="13" height="4"/><rect x="422" y="714" width="13" height="4"/><rect x="422" y="722" width="13" height="4"/><rect x="422" y="730" width="13" height="4"/><rect x="422" y="738" width="13" height="4"/><rect x="422" y="746" width="13" height="4"/><rect x="422" y="754" width="13" height="4"/>
<rect x="458" y="706" width="13" height="4"/><rect x="458" y="714" width="13" height="4"/><rect x="458" y="722" width="13" height="4"/><rect x="458" y="730" width="13" height="4"/><rect x="458" y="738" width="13" height="4"/><rect x="458" y="746" width="13" height="4"/><rect x="458" y="754" width="13" height="4"/></g>
<rect x="435" y="702" width="23" height="58" fill="#1e1e1e"/>
<text x="436" y="772" font-size="11">IC2</text>
<rect x="477" y="686" width="9" height="17" fill="#eee" stroke="#555"/><rect x="477" y="718" width="9" height="17" fill="#eee" stroke="#555"/><rect x="477" y="742" width="9" height="17" fill="#eee" stroke="#555"/>
<rect x="412" y="773" width="17" height="10" fill="#eee" stroke="#555"/><rect x="443" y="773" width="17" height="10" fill="#eee" stroke="#555"/>
<rect x="440" y="793" width="17" height="10" fill="#111" stroke="#ccc"/><rect x="467" y="793" width="17" height="10" fill="#111" stroke="#ccc"/>
<rect x="451" y="806" width="9" height="17" fill="#ddd" stroke="#555"/><rect x="467" y="806" width="9" height="17" fill="#ddd" stroke="#555"/>
<rect x="345" y="853" width="80" height="15" fill="#fff"/>
<text x="349" y="865" fill="#22884a" font-size="13">UART-TTL</text>
<rect x="432" y="852" width="46" height="14" rx="7" fill="#333"/>
<g fill="#d8b640"><circle cx="440" cy="859" r="3"/><circle cx="455" cy="859" r="3"/><circle cx="470" cy="859" r="3"/></g>
<path d="M503 621 H559 V677 H503 Z M503 687 H559 V743 H503 Z" fill="none" stroke="#d5eadb" stroke-width="1.5"/>
<g fill="#23894b" stroke="#ddd" stroke-width="2"><circle cx="516" cy="647" r="4"/><circle cx="546" cy="649" r="4"/><circle cx="531" cy="663" r="4"/><circle cx="516" cy="714" r="4"/><circle cx="546" cy="714" r="4"/><circle cx="531" cy="729" r="4"/></g>
<path d="M565 661 A12 12 0 0 1 588 661 M565 727 A12 12 0 0 1 588 727" fill="none" stroke="#fff" stroke-width="3"/>
<text x="566" y="681" font-size="11">VR2</text><text x="566" y="746" font-size="11">VR3</text>
<rect x="568" y="625" width="20" height="10" fill="#c6c6c6"/>
<text x="567" y="623" font-size="10">R49</text>
<circle cx="610" cy="642" r="13" fill="none" stroke="#ccc" stroke-width="1.5"/>
<circle cx="654" cy="642" r="13" fill="none" stroke="#ccc" stroke-width="1.5"/>
<g fill="#23894b" stroke="#ddd" stroke-width="1.5"><circle cx="604" cy="641" r="3"/><circle cx="616" cy="641" r="3"/><circle cx="640" cy="641" r="3"/><circle cx="654" cy="641" r="3"/><circle cx="668" cy="641" r="3"/></g>
<text x="636" y="626" font-size="10">LM35</text>
<g fill="#d8b640" stroke="#333" stroke-width="2"><circle cx="605" cy="672" r="4"/><circle cx="620" cy="672" r="4"/><circle cx="635" cy="672" r="4"/><circle cx="650" cy="672" r="4"/><circle cx="665" cy="672" r="4"/></g>
<rect x="596" y="690" width="74" height="29" fill="#fff"/>
<text x="601" y="703" fill="#22884a" font-size="12">ANALOG &amp;</text>
<text x="601" y="716" fill="#22884a" font-size="12">SENSORS</text>
<path d="M504 747 H591 V820 H504 Z M504 785 H591" fill="none" stroke="#d5eadb" stroke-width="1.5"/>
<g fill="#888" stroke="#ddd" stroke-width="2"><circle cx="519" cy="765" r="5"/><circle cx="534" cy="765" r="5"/><circle cx="519" cy="802" r="5"/><circle cx="534" cy="802" r="5"/></g>
<text x="543" y="770" font-size="10">0-10V</text><text x="543" y="806" font-size="10">4-20mA</text>
<circle cx="633" cy="770" r="28" fill="none" stroke="#cfe5d5" stroke-width="1.5"/>
<circle cx="633" cy="770" r="20" fill="#1c703f"/>
<circle cx="633" cy="770" r="16" fill="#fff" stroke="#222" stroke-width="1.5"/>
<text x="649" y="806" font-size="14">MIC</text>
<rect x="553" y="813" width="120" height="54" fill="none" stroke="#d5eadb" stroke-width="1.5"/>
<rect x="559" y="819" width="108" height="42" fill="none" stroke="#d5eadb" stroke-width="1"/>
<g fill="#23894b" stroke="#ddd" stroke-width="1.5"><circle cx="583" cy="833" r="4"/><circle cx="598" cy="833" r="4"/><circle cx="613" cy="833" r="4"/><circle cx="628" cy="833" r="4"/><circle cx="643" cy="833" r="4"/><circle cx="583" cy="848" r="4"/><circle cx="598" cy="848" r="4"/><circle cx="613" cy="848" r="4"/><circle cx="628" cy="848" r="4"/><circle cx="643" cy="848" r="4"/></g>

<!-- stepper / relay -->
<rect x="305" y="883" width="59" height="148" fill="#3db83f" stroke="#1d6a1d"/>
<rect x="305" y="883" width="16" height="148" fill="#2a9c2c"/>
<rect x="349" y="883" width="15" height="148" fill="#2a9c2c"/>
<g fill="#fff" stroke="#444" stroke-width="1.5"><circle cx="335" cy="896" r="10"/><circle cx="335" cy="926" r="10"/><circle cx="335" cy="956" r="10"/><circle cx="335" cy="986" r="10"/><circle cx="335" cy="1016" r="10"/></g>
<g stroke="#444" stroke-width="2"><path d="M335 888 V904 M335 918 V934 M335 948 V964 M335 978 V994 M335 1008 V1024"/></g>
<rect x="305" y="1151" width="59" height="90" fill="#3db83f" stroke="#1d6a1d"/>
<rect x="305" y="1151" width="16" height="90" fill="#2a9c2c"/>
<rect x="349" y="1151" width="15" height="90" fill="#2a9c2c"/>
<g fill="#fff" stroke="#444" stroke-width="1.5"><circle cx="335" cy="1166" r="10"/><circle cx="335" cy="1195" r="10"/><circle cx="335" cy="1224" r="10"/></g>
<g stroke="#444" stroke-width="2"><path d="M335 1158 V1174 M335 1187 V1203 M335 1216 V1232"/></g>
<g fill="#1d1d1d" stroke="#bbb" stroke-width="1">
<rect x="385" y="882" width="22" height="13"/><rect x="385" y="902" width="22" height="13"/><rect x="385" y="922" width="22" height="13"/><rect x="385" y="942" width="22" height="13"/>
<rect x="385" y="962" width="22" height="13"/><rect x="385" y="982" width="22" height="13"/><rect x="385" y="1002" width="22" height="13"/><rect x="385" y="1022" width="22" height="13"/>
</g>
<rect x="440" y="890" width="98" height="140" fill="#cdcdcd" stroke="#8a8a8a"/>
<g fill="#ececec" stroke="#9a9a9a"><rect x="495" y="897" width="48" height="10" rx="5"/><rect x="495" y="920" width="48" height="10" rx="5"/><rect x="495" y="943" width="48" height="10" rx="5"/><rect x="495" y="966" width="48" height="10" rx="5"/><rect x="495" y="989" width="48" height="10" rx="5"/><rect x="495" y="1012" width="48" height="10" rx="5"/></g>
<g fill="#e8e8e8" stroke="#888"><rect x="418" y="905" width="35" height="5"/><rect x="418" y="925" width="35" height="5"/><rect x="418" y="945" width="35" height="5"/><rect x="418" y="965" width="35" height="5"/><rect x="418" y="985" width="35" height="5"/><rect x="418" y="1005" width="35" height="5"/></g>
<rect x="453" y="901" width="22" height="119" fill="#1c1c1c"/>
<text x="418" y="1047" font-size="11">IC11</text>
<rect x="460" y="1035" width="57" height="15" fill="#fff"/>
<text x="462" y="1047" fill="#22884a" font-size="12">BUZZER</text>
<circle cx="491" cy="1088" r="41" fill="#1a1a1a" stroke="#333" stroke-width="2"/>
<circle cx="491" cy="1088" r="7" fill="#f2e600"/>
<rect x="403" y="1064" width="34" height="53" fill="#3a3a3a" stroke="#222"/>
<rect x="410" y="1068" width="20" height="45" fill="#555"/>
<g fill="#ddd" stroke="#555"><rect x="327" y="1062" width="16" height="11"/><rect x="327" y="1084" width="16" height="11"/><rect x="327" y="1106" width="16" height="11"/><rect x="327" y="1128" width="16" height="11"/></g>
<g fill="#1a1a1a" stroke="#ccc"><rect x="362" y="1062" width="15" height="11"/><rect x="362" y="1084" width="15" height="11"/><rect x="362" y="1106" width="15" height="11"/><rect x="362" y="1128" width="15" height="11"/></g>
<text x="325" y="1058" font-size="10">OP4 R39</text>
<rect x="432" y="1137" width="23" height="15" fill="#1c1c1c" stroke="#ccc"/>
<rect x="373" y="1159" width="92" height="114" fill="#1f1f1f"/>
<text x="374" y="1154" font-size="11">RL1</text>
<use href="#hdrV" x="484" y="1144"/>
<text x="497" y="1140" font-size="11">SV9</text>
<rect x="339" y="1276" width="193" height="14" fill="#fff"/>
<text x="342" y="1288" fill="#22884a" font-size="12.5">STEPPER MOTOR &amp; RELAY</text>
<text x="300" y="880" font-size="11">X4</text><text x="308" y="1045" font-size="11">X5</text><text x="342" y="1255" font-size="11">X6</text>

<!-- level shifter / SD -->
<use href="#hdrH" x="553" y="885"/>
<text x="556" y="955" font-size="13">SV11</text><text x="602" y="955" font-size="13">3V LEVEL</text>
<line x1="578" y1="962" x2="652" y2="962" stroke="#c8c8c8" stroke-width="10" stroke-dasharray="3 2"/>
<line x1="578" y1="1020" x2="652" y2="1020" stroke="#c8c8c8" stroke-width="10" stroke-dasharray="3 2"/>
<rect x="574" y="967" width="80" height="48" fill="#1e1e1e"/>
<rect x="569" y="973" width="6" height="12" fill="#ddd"/><rect x="654" y="973" width="6" height="12" fill="#ddd"/>
<text x="609" y="1036" font-size="13">5V LEVEL</text>
<use href="#hdrH" x="553" y="1042"/>
<text x="576" y="1112" font-size="13">SV10</text>
<rect x="601" y="1137" width="9" height="13" fill="#eee" stroke="#555"/>
<text x="597" y="1135" font-size="11">C22</text>
<line x1="575" y1="1166" x2="628" y2="1166" stroke="#c0c0c0" stroke-width="10" stroke-dasharray="2 2"/>
<rect x="571" y="1171" width="85" height="80" fill="#fcfcfc" stroke="#8a8a8a" stroke-width="2"/>
<rect x="571" y="1171" width="5" height="26" fill="#222"/>
<path d="M637 1224 H646 V1247" fill="none" stroke="#444" stroke-width="2"/>
<rect x="580" y="1276" width="66" height="14" fill="#fff"/>
<text x="584" y="1288" fill="#22884a" font-size="12.5">SD CARD</text>

<!-- Keypad -->
<use href="#btn" x="751" y="901"/><use href="#btn" x="855" y="901"/><use href="#btn" x="960" y="901"/><use href="#btn" x="1065" y="901"/>
<use href="#btn" x="751" y="1006"/><use href="#btn" x="855" y="1006"/><use href="#btn" x="960" y="1006"/><use href="#btn" x="1065" y="1006"/>
<use href="#btn" x="751" y="1110"/><use href="#btn" x="855" y="1110"/><use href="#btn" x="960" y="1110"/><use href="#btn" x="1065" y="1110"/>
<use href="#btn" x="751" y="1216"/><use href="#btn" x="855" y="1216"/><use href="#btn" x="960" y="1216"/><use href="#btn" x="1065" y="1216"/>
<g fill="#fff">
<rect x="739" y="837" width="24" height="23"/><rect x="843" y="837" width="24" height="23"/><rect x="948" y="837" width="24" height="23"/><rect x="1053" y="837" width="24" height="23"/>
<rect x="739" y="942" width="24" height="23"/><rect x="843" y="942" width="24" height="23"/><rect x="948" y="942" width="24" height="23"/><rect x="1053" y="942" width="24" height="23"/>
<rect x="739" y="1047" width="24" height="23"/><rect x="843" y="1047" width="24" height="23"/><rect x="948" y="1047" width="24" height="23"/><rect x="1053" y="1047" width="24" height="23"/>
<rect x="739" y="1152" width="24" height="23"/><rect x="843" y="1152" width="24" height="23"/><rect x="948" y="1152" width="24" height="23"/><rect x="1053" y="1152" width="24" height="23"/>
</g>
<g fill="#22884a" font-size="21" font-weight="bold" text-anchor="middle">
<text x="751" y="856">1</text><text x="855" y="856">2</text><text x="960" y="856">3</text><text x="1065" y="856">4</text>
<text x="751" y="961">5</text><text x="855" y="961">6</text><text x="960" y="961">7</text><text x="1065" y="961">8</text>
<text x="751" y="1066">9</text><text x="855" y="1066">0</text><text x="960" y="1066">A</text><text x="1065" y="1066">B</text>
<text x="751" y="1171">C</text><text x="855" y="1171">D</text><text x="960" y="1171">E</text><text x="1065" y="1171">F</text>
</g>
<text x="686" y="907" font-size="15">R1</text><text x="686" y="1011" font-size="15">R2</text><text x="686" y="1115" font-size="15">R3</text><text x="686" y="1221" font-size="15">R4</text>
<text x="740" y="1268" font-size="15">C1</text><text x="868" y="1268" font-size="15">C2</text><text x="950" y="1265" font-size="15">C3</text><text x="1055" y="1265" font-size="15">C4</text>
<rect x="909" y="1274" width="128" height="14" fill="#fff"/>
<text x="912" y="1286" fill="#22884a" font-size="12.5">4X4 KEY MATRIX</text>
<use href="#hdrV" x="1122" y="908"/>
<text transform="translate(1118 990) rotate(-90)" font-size="11">SU5</text>
<use href="#hdrV3" x="1122" y="1071"/>
<use href="#hdrV3" x="1122" y="1187"/>
<text x="1136" y="1067" font-size="11">SV6</text>
<text x="1134" y="1175" font-size="12">GND</text>
<text x="1136" y="1185" font-size="10">SV7</text>
<text x="1140" y="1292" font-size="12">5V</text>

<!-- Pi section -->
<rect x="1203" y="837" width="121" height="54" fill="none" stroke="#d5eadb" stroke-width="1.5"/>
<rect x="1209" y="843" width="109" height="40" fill="none" stroke="#d5eadb" stroke-width="1"/>
<g fill="#23894b" stroke="#ddd" stroke-width="1.5"><circle cx="1233" cy="857" r="4"/><circle cx="1248" cy="857" r="4"/><circle cx="1263" cy="857" r="4"/><circle cx="1278" cy="857" r="4"/><circle cx="1293" cy="857" r="4"/><circle cx="1233" cy="872" r="4"/><circle cx="1248" cy="872" r="4"/><circle cx="1263" cy="872" r="4"/><circle cx="1278" cy="872" r="4"/><circle cx="1293" cy="872" r="4"/></g>
<rect x="1252" y="883" width="24" height="11" fill="#fff"/>
<text transform="translate(1199 880) rotate(-90)" font-size="11">SV8</text>
<rect x="1339" y="871" width="76" height="14" rx="7" fill="#888" stroke="#ddd"/>
<g fill="#23894b" stroke="#ddd" stroke-width="1.5"><circle cx="1347" cy="878" r="3"/><circle cx="1362" cy="878" r="3"/><circle cx="1377" cy="878" r="3"/><circle cx="1392" cy="878" r="3"/><circle cx="1407" cy="878" r="3"/></g>
<text x="1364" y="898" font-size="11">RN2</text>
<use href="#tact" x="1450" y="865"/><use href="#tact" x="1518" y="865"/><use href="#tact" x="1585" y="865"/><use href="#tact" x="1653" y="865"/>
<text x="1436" y="842" font-size="11">MENU</text><text x="1510" y="842" font-size="11">UP</text><text x="1570" y="842" font-size="11">DOWN</text><text x="1633" y="842" font-size="11">ENTER</text>
<g fill="#fff">
<rect x="1439" y="889" width="9" height="9"/><rect x="1451" y="889" width="9" height="9"/><rect x="1439" y="901" width="9" height="9"/><rect x="1451" y="901" width="9" height="9"/>
<path d="M1518 887 L1528 911 H1508 Z"/>
<path d="M1576 887 H1596 L1586 911 Z"/>
<path d="M1662 887 V906 H1650 V911 L1640 903 L1650 895 V900 H1656 V887 Z"/>
</g>
<rect x="1196" y="918" width="527" height="369" fill="none" stroke="#d5eadb" stroke-width="2"/>
<text x="1693" y="934" font-size="11">X10</text>
<rect x="1198" y="927" width="503" height="331" rx="14" fill="#0b7d1a" stroke="#075a10" stroke-width="2"/>
<rect x="1241" y="933" width="299" height="30" fill="#3a3a3a"/>
<line x1="1243" y1="941" x2="1540" y2="941" stroke="#111" stroke-width="5" stroke-dasharray="5 9.9"/>
<line x1="1243" y1="955" x2="1540" y2="955" stroke="#111" stroke-width="5" stroke-dasharray="5 9.9"/>
<use href="#pihole" x="1218" y="948"/><use href="#pihole" x="1562" y="948"/><use href="#pihole" x="1218" y="1238"/><use href="#pihole" x="1562" y="1238"/>
<rect x="1547" y="983" width="30" height="29" fill="#2e2e2e"/>
<rect x="1594" y="941" width="124" height="93" fill="#ececec" stroke="#9a9a9a"/>
<rect x="1586" y="1040" width="27" height="41" fill="#3a3a3a"/>
<rect x="1618" y="1060" width="98" height="77" fill="#e6e6e6" stroke="#9a9a9a"/>
<path d="M1672 1080 L1708 1085 V1092 L1672 1096 M1672 1103 L1708 1108 V1115 L1672 1119" fill="none" stroke="#2a62c0" stroke-width="3"/>
<rect x="1618" y="1166" width="98" height="77" fill="#e6e6e6" stroke="#9a9a9a"/>
<path d="M1672 1186 L1708 1191 V1198 L1672 1202 M1672 1209 L1708 1214 V1221 L1672 1225" fill="none" stroke="#1a1a1a" stroke-width="3"/>
<rect x="1235" y="969" width="64" height="78" fill="#c9c9c9" stroke="#a0a0a0"/>
<text x="1314" y="996" font-family="Liberation Sans, sans-serif" font-size="18" fill="#304a30" textLength="178" lengthAdjust="spacingAndGlyphs">Raspberry Pi Model 4 B</text>
<rect x="1327" y="1023" width="88" height="87" rx="3" fill="#8a8a8a"/>
<rect x="1331" y="1027" width="80" height="79" fill="#bdbdbd" stroke="#777"/>
<circle cx="1345" cy="1092" r="3" fill="none" stroke="#333"/>
<rect x="1433" y="1025" width="59" height="85" fill="#343434"/>
<rect x="1478" y="1013" width="7" height="8" fill="#ddd" stroke="#777"/>
<rect x="1526" y="1018" width="36" height="35" fill="#3a3a3a"/>
<rect x="1526" y="1093" width="47" height="46" fill="#3a3a3a"/>
<rect x="1498" y="1132" width="23" height="15" fill="#333"/>
<rect x="1548" y="1147" width="25" height="15" fill="#e8e8e8"/>
<rect x="1495" y="1155" width="15" height="18" fill="#333"/>
<rect x="1533" y="1065" width="6" height="6" fill="#ddd"/><rect x="1545" y="1062" width="7" height="10" fill="#e8d8a0"/>
<g fill="none" stroke="#f0f0f0" stroke-width="2.5">
<ellipse cx="1279" cy="1064" rx="10" ry="6" transform="rotate(25 1279 1064)"/>
<ellipse cx="1299" cy="1064" rx="10" ry="6" transform="rotate(-25 1299 1064)"/>
<circle cx="1281" cy="1083" r="7"/><circle cx="1296" cy="1083" r="7"/>
<circle cx="1273" cy="1097" r="7"/><circle cx="1289" cy="1097" r="7"/><circle cx="1305" cy="1097" r="7"/>
<circle cx="1281" cy="1111" r="7"/><circle cx="1297" cy="1111" r="7"/>
<circle cx="1289" cy="1122" r="6"/>
</g>
<line x1="1210" y1="1030" x2="1210" y2="1155" stroke="#aaa" stroke-width="6" stroke-dasharray="2 2"/>
<rect x="1214" y="1028" width="16" height="129" fill="#2a2a2a"/>
<rect x="1241" y="1126" width="49" height="19" fill="#1f4a1f"/>
<g fill="#f0e020" stroke="#333" stroke-width="1"><circle cx="1250" cy="1135" r="6"/><circle cx="1266" cy="1135" r="6"/><circle cx="1282" cy="1135" r="6"/></g>
<rect x="1233" y="1152" width="29" height="10" fill="#ddd" stroke="#555"/>
<rect x="1246" y="1168" width="14" height="20" fill="#333"/>
<rect x="1259" y="1175" width="22" height="24" fill="#333"/>
<rect x="1278" y="1163" width="25" height="25" rx="4" fill="#3a3a3a"/>
<rect x="1305" y="1193" width="20" height="28" fill="#2e2e2e"/>
<rect x="1284" y="1197" width="11" height="12" fill="#2e2e2e"/>
<line x1="1459" y1="1128" x2="1459" y2="1255" stroke="#aaa" stroke-width="5" stroke-dasharray="2 2"/>
<line x1="1486" y1="1128" x2="1486" y2="1255" stroke="#aaa" stroke-width="5" stroke-dasharray="2 2"/>
<rect x="1465" y="1125" width="15" height="130" fill="#2a2a2a"/>
<rect x="1498" y="1187" width="40" height="71" fill="#1a1a1a"/>
<path d="M1510 1200 L1516 1187 H1522 L1528 1200 V1245 H1510 Z" fill="#9a9a9a"/>
<rect x="1500" y="1258" width="36" height="15" fill="#111"/>
<rect x="1239" y="1221" width="51" height="42" fill="#eeeeee" stroke="#888"/>
<path d="M1246 1228 H1258 V1238 M1283 1228 H1271 V1238" fill="none" stroke="#444" stroke-width="2.5"/>
<rect x="1314" y="1258" width="78" height="29" fill="#dcdcdc" stroke="#999"/>
<rect x="1333" y="1219" width="37" height="45" fill="#cfcfcf" stroke="#777"/>
<rect x="1336" y="1231" width="31" height="31" fill="#f0e62a"/>
<rect x="1413" y="1219" width="37" height="45" fill="#cfcfcf" stroke="#777"/>
<rect x="1416" y="1231" width="31" height="31" fill="#f0e62a"/>
<rect x="1377" y="1236" width="14" height="14" fill="#2a2a2a"/>
</g>

<!-- CALLOUT LINES -->
<g fill="none" stroke="#ff6600" stroke-width="7">
  <path d="M115 403 H318"/>
  <path d="M375 131 V334"/>
  <path d="M505 131 V332"/>
  <path d="M609 131 V640"/>
  <path d="M726 131 V459"/>
  <path d="M809 131 V681"/>
  <path d="M923 131 V766"/>
  <path d="M897 230 V338"/>
  <path d="M970 230 V766"/>
  <path d="M1046 131 V697"/>
  <path d="M1134 131 V561"/>
  <path d="M1253 131 V699"/>
  <path d="M1407 131 V699"/>
  <path d="M1507 131 V418"/>
  <path d="M1528 576 H1816"/>
  <path d="M115 652 H532"/>
  <path d="M115 734 H318"/>
  <path d="M115 896 H1142 V708"/>
  <path d="M115 979 H504"/>
  <path d="M115 1088 H466"/>
  <path d="M115 1217 H415"/>
  <path d="M1817 820 H1449 V853 M1517 820 V853 M1585 820 V853 M1652 820 V853"/>
  <path d="M524 1455 V909 M521 911 H585 M524 1069 H585"/>
  <path d="M607 1455 V1209"/>
  <path d="M909 1455 V1347 M752 1283 V1347 H1066 V1283"/>
  <path d="M1107 1455 V1117 M1104 1121 H1141 M1107 1231 H1141"/>
  <path d="M1351 1388 V1267"/>
  <path d="M1429 1455 V1167"/>
</g>

<!-- CALLOUT CIRCLES -->
<g fill="#ff6600">
  <circle cx="375" cy="131" r="39"/><circle cx="505" cy="131" r="39"/><circle cx="609" cy="131" r="39"/>
  <circle cx="726" cy="131" r="39"/><circle cx="809" cy="131" r="39"/><circle cx="923" cy="131" r="39"/>
  <circle cx="1046" cy="131" r="39"/><circle cx="1134" cy="131" r="39"/><circle cx="1253" cy="131" r="39"/>
  <circle cx="1407" cy="131" r="39"/><circle cx="1507" cy="131" r="39"/>
  <circle cx="875" cy="230" r="39"/><circle cx="987" cy="230" r="39"/>
  <circle cx="115" cy="403" r="39"/><circle cx="115" cy="652" r="39"/><circle cx="115" cy="734" r="39"/>
  <circle cx="115" cy="896" r="39"/><circle cx="115" cy="980" r="39"/><circle cx="115" cy="1088" r="39"/><circle cx="115" cy="1217" r="39"/>
  <circle cx="1816" cy="577" r="39"/><circle cx="1817" cy="821" r="39"/>
  <circle cx="524" cy="1455" r="39"/><circle cx="607" cy="1455" r="39"/><circle cx="909" cy="1455" r="39"/>
  <circle cx="1107" cy="1455" r="39"/><circle cx="1350" cy="1388" r="39"/><circle cx="1428" cy="1455" r="39"/>
</g>
<g fill="#ffff00" stroke="#ffff00" stroke-width="1.4" font-family="Liberation Sans, Arial, sans-serif" font-weight="bold" font-size="50" text-anchor="middle">
  <text x="375" y="149">2</text>
  <text x="505" y="149" textLength="60" lengthAdjust="spacingAndGlyphs">16</text>
  <text x="609" y="149" textLength="62" lengthAdjust="spacingAndGlyphs">24</text>
  <text x="726" y="149">5</text>
  <text x="809" y="149">4</text>
  <text x="923" y="149" textLength="54" lengthAdjust="spacingAndGlyphs">11</text>
  <text x="1046" y="149" textLength="62" lengthAdjust="spacingAndGlyphs">27</text>
  <text x="1134" y="149" textLength="62" lengthAdjust="spacingAndGlyphs">19</text>
  <text x="1253" y="149" textLength="62" lengthAdjust="spacingAndGlyphs">18</text>
  <text x="1407" y="149" textLength="60" lengthAdjust="spacingAndGlyphs">17</text>
  <text x="1507" y="149" textLength="62" lengthAdjust="spacingAndGlyphs">20</text>
  <text x="875" y="248" textLength="62" lengthAdjust="spacingAndGlyphs">26</text>
  <text x="987" y="248" textLength="60" lengthAdjust="spacingAndGlyphs">12</text>
  <text x="115" y="421">1</text>
  <text x="115" y="670">6</text>
  <text x="115" y="752" textLength="62" lengthAdjust="spacingAndGlyphs">22</text>
  <text x="115" y="914">7</text>
  <text x="115" y="998">3</text>
  <text x="115" y="1106">8</text>
  <text x="115" y="1235">9</text>
  <text x="1816" y="595" textLength="62" lengthAdjust="spacingAndGlyphs">28</text>
  <text x="1817" y="839" textLength="60" lengthAdjust="spacingAndGlyphs">13</text>
  <text x="524" y="1473" textLength="64" lengthAdjust="spacingAndGlyphs">29</text>
  <text x="607" y="1473" textLength="61" lengthAdjust="spacingAndGlyphs">10</text>
  <text x="909" y="1473" textLength="60" lengthAdjust="spacingAndGlyphs">15</text>
  <text x="1107" y="1473" textLength="60" lengthAdjust="spacingAndGlyphs">14</text>
  <text x="1350" y="1406" textLength="56" lengthAdjust="spacingAndGlyphs">21</text>
  <text x="1428" y="1473" textLength="62" lengthAdjust="spacingAndGlyphs">30</text>
</g>

<!-- LEGEND -->
<g fill="#000" stroke="#000" stroke-width="0.5" font-family="Liberation Sans, Arial, sans-serif" font-size="37.5">
  <text x="2022" y="110">1. Power Supply - DC to DC 3 Amps</text>
  <text x="2022" y="160.2">2. Power ON Switch</text>
  <text x="2022" y="210.4">3. L298 Driver</text>
  <text x="2022" y="260.6">4. OLED Display</text>
  <text x="2022" y="310.8">5. Digital Input Switch</text>
  <text x="2022" y="361">6. ADC (Variable Resistor POT)</text>
  <text x="2022" y="411.2">7. RTC Battery</text>
  <text x="2022" y="461.4">8. Buzzer</text>
  <text x="2022" y="511.6">9. Relay</text>
  <text x="2022" y="561.8">10. SD Card Holder</text>
  <text x="2022" y="612">11. On Off Switch for SPI</text>
  <text x="2022" y="662.2">12. On Off Switch for I2C</text>
  <text x="2022" y="712.4">13. 1*4 Keypad Switches</text>
  <text x="2022" y="762.6">14. RDL Bus FRC 5V &amp; GND Connector</text>
  <text x="2022" y="812.8">15. 4*4 Keypad Matrix</text>
  <text x="2022" y="863">16. FUSE Holder</text>
  <text x="2022" y="913.2">17. 7 Segment Display</text>
  <text x="2022" y="963.4">18. 1*8 LED's</text>
  <text x="2022" y="1013.6">19. Jumper Settings for UART TTL</text>
  <text x="2022" y="1063.8">20. 16*2 LCD Display</text>
  <text x="2022" y="1114">21. Onboard Raspberry Pie Power Supply</text>
  <text x="2022" y="1164.2">22. DB-9 Serial Female Connector</text>
  <text x="2022" y="1214.4">24. LDR Sensor</text>
  <text x="2022" y="1264.6">26. RS485</text>
  <text x="2022" y="1314.8">27. EEPROM</text>
  <text x="2022" y="1365">28. Backlight On/Off Switch</text>
  <text x="2022" y="1415.2">29. 3.3V to 5V Level Controller</text>
  <text x="2022" y="1465.4">30. Raspberry Pi 4</text>
</g>
</svg>
</body></html>
